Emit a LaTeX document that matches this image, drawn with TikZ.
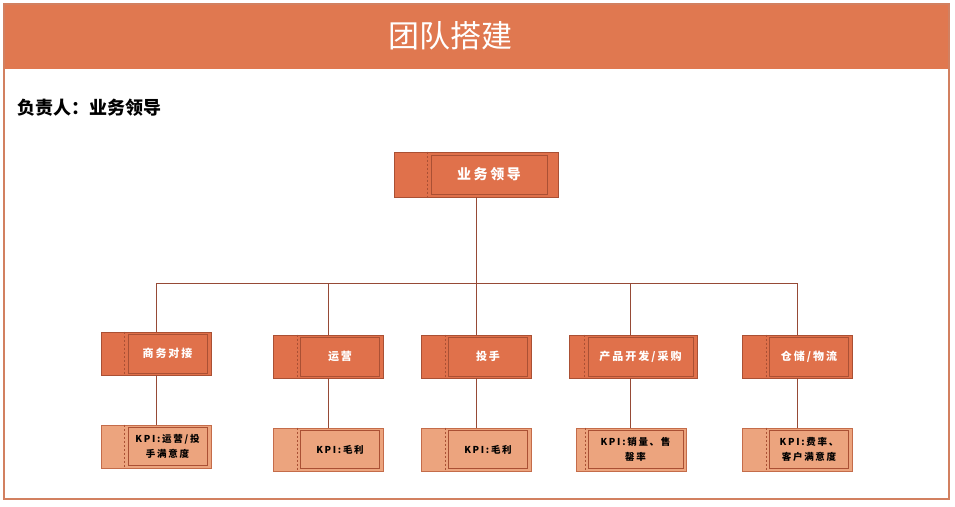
\documentclass[tikz,border=0pt]{standalone}
\usepackage{fontspec}
\newfontfamily\cjk{Noto Sans CJK SC}
\newfontfamily\cjkwide{Noto Sans CJK SC}[LetterSpace=18]
\usetikzlibrary{positioning}
\definecolor{headorange}{RGB}{224,120,80}
\definecolor{frameorange}{RGB}{210,128,96}
\definecolor{boxdark}{RGB}{224,113,75}
\definecolor{boxdarkline}{RGB}{170,80,52}
\definecolor{boxlight}{RGB}{236,164,126}
\definecolor{boxlightline}{RGB}{196,108,74}
\definecolor{linkbrown}{RGB}{150,74,54}
\tikzset{
  darkbox/.style={draw=boxdarkline,fill=boxdark,line width=0.8pt,
    minimum width=110pt,minimum height=43pt,inner sep=0pt},
  lightbox/.style={draw=boxlightline,fill=boxlight,line width=0.8pt,
    minimum width=110pt,minimum height=43pt,inner sep=0pt},
  darkin/.style={draw=boxdarkline,line width=0.5pt,minimum width=79pt,
    minimum height=39pt,inner sep=0pt,align=center,text=white,
    font=\cjkwide\bfseries\fontsize{11}{13}\selectfont},
  lightin/.style={draw=boxdarkline,line width=0.5pt,minimum width=79pt,
    minimum height=38pt,inner sep=0pt,align=center,text=black,
    font=\cjkwide\bfseries\fontsize{9.5}{15}\selectfont},
  cutline/.style={draw=boxdarkline,line width=0.5pt,dash pattern=on 2pt off 2pt},
  link/.style={draw=linkbrown,line width=0.8pt}
}

\begin{document}
\begin{tikzpicture}[x=1pt,y=-1pt]
  \useasboundingbox (0,0) rectangle (955,506);
  % frame and header
  \fill[headorange] (4,4) rectangle (949,69);
  \draw[frameorange,line width=2pt] (4,4) rectangle (949,499);
  \node[text=white,font=\cjk\fontsize{31}{34}\selectfont] (title) at (450,36) {团队搭建};
  \node[anchor=west,font=\cjk\bfseries\fontsize{18}{20}\selectfont] (owner) at (14,108) {负责人：业务领导};

  % top box
  \node[darkbox,minimum width=164pt,minimum height=45pt] (lead) at (476,174.5) {};
  \node[darkin,minimum width=116pt,font=\cjkwide\bfseries\fontsize{14}{16}\selectfont]
    (leadt) at ([xshift=13pt]lead.center) {业务领导};
  \draw[cutline] ([xshift=34pt]lead.north west) -- ([xshift=34pt]lead.south west);

  % second row
  \node[darkbox] (b1) at (156,353.5) {};
  \node[darkbox] (b2) at (328.5,356.5) {};
  \node[darkbox] (b3) at (476.5,356.5) {};
  \node[darkbox,minimum width=128pt] (b4) at (633,356.5) {};
  \node[darkbox] (b5) at (797.5,356.5) {};
  \node[darkin] (b1t) at ([xshift=11.5pt]b1.center) {商务对接};
  \node[darkin] (b2t) at ([xshift=11.5pt]b2.center) {运营};
  \node[darkin] (b3t) at ([xshift=11.5pt]b3.center) {投手};
  \node[darkin,minimum width=105pt] (b4t) at ([xshift=7.5pt]b4.center) {产品开发/采购};
  \node[darkin] (b5t) at ([xshift=11.5pt]b5.center) {仓储/物流};
  \foreach \b in {b1,b2,b3,b5}
    \draw[cutline] ([xshift=24pt]\b.north west) -- ([xshift=24pt]\b.south west);
  \draw[cutline] ([xshift=16pt]b4.north west) -- ([xshift=16pt]b4.south west);

  % KPI row
  \node[lightbox] (k1) at (156,446.5) {};
  \node[lightbox] (k2) at (328.5,449.5) {};
  \node[lightbox] (k3) at (476.5,449.5) {};
  \node[lightbox] (k4) at (631,449.5) {};
  \node[lightbox] (k5) at (797.5,449.5) {};
  \node[lightin] (k1t) at ([xshift=11.5pt]k1.center) {KPI:运营/投\\手满意度};
  \node[lightin] (k2t) at ([xshift=11.5pt]k2.center) {KPI:毛利};
  \node[lightin] (k3t) at ([xshift=11.5pt]k3.center) {KPI:毛利};
  \node[lightin,minimum width=95pt] (k4t) at ([xshift=4.5pt]k4.center) {KPI:销量、售\\罄率};
  \node[lightin] (k5t) at ([xshift=11.5pt]k5.center) {KPI:费率、\\客户满意度};
  \foreach \k in {k1,k2,k3,k5}
    \draw[cutline] ([xshift=24pt]\k.north west) -- ([xshift=24pt]\k.south west);
  \draw[cutline] ([xshift=10pt]k4.north west) -- ([xshift=10pt]k4.south west);

  % connectors
  \coordinate (bus) at (477,283);
  \draw[link] (lead.south) -- (lead.south |- bus);
  \draw[link] (b1.north |- bus) -- (b5.north |- bus);
  \foreach \b in {b1,b2,b3,b5}
    \draw[link] (\b.north |- bus) -- (\b.north);
  \draw[link] ([xshift=-3pt]b4.north |- bus) -- ([xshift=-3pt]b4.north);
  \foreach \b/\k in {b1/k1,b2/k2,b3/k3,b5/k5}
    \draw[link] (\b.south) -- (\k.north);
  \draw[link] ([xshift=-3pt]b4.south) -- ([xshift=-3pt]b4.south |- k4.north);
\end{tikzpicture}
\end{document}
